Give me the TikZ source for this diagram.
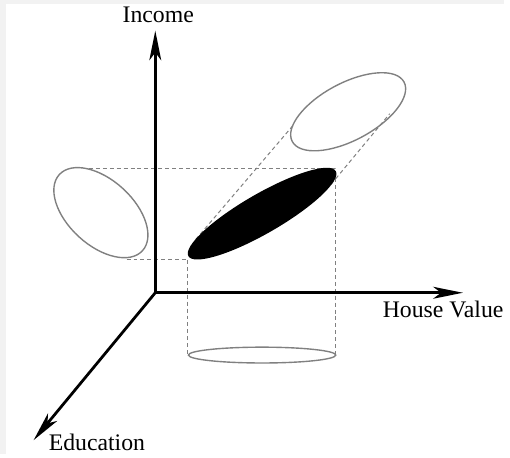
\documentclass[tikz,border=0pt]{standalone}
\usepackage{fontspec}
\setmainfont{Liberation Serif}
\usetikzlibrary{arrows.meta}

\begin{document}
\begin{tikzpicture}[x=0.5pt, y=-0.5pt, font=\fontsize{12}{14}\selectfont,
    axis/.style={line width=1.4pt, -{Stealth[length=15pt, width=6pt, inset=4pt]}},
    proj/.style={black!50, line width=0.7pt},
    guide/.style={black!50, line width=0.5pt, dash pattern=on 2pt off 1.5pt}]
  % frame
  \fill[black!5] (0,0) rectangle (510,459);
  \fill[white] (6,4) rectangle (510,459);
  % axes
  \coordinate (O) at (157,296);
  \coordinate (inctip) at (157,31);
  \coordinate (hvtip) at (468,296);
  \coordinate (edtip) at (34,445);
  \node (inc) at (160,15) {Income};
  \node (hv) at (448,313) {House Value};
  \node (edu) at (98,447) {Education};
  % guide lines
  \draw[guide] (90,170) -- (339,170) -- (339,359);
  \draw[guide] (128,262) -- (190,262) -- (190,359);
  \draw[guide] (198,242) -- (297,126);
  \draw[guide] (335,186) -- (394,115);
  % projections
  \draw[proj, shift={(102,215)}, rotate=-42.5] (0,0) ellipse [x radius=57, y radius=33];
  \draw[proj, shift={(352,113)}, rotate=28] (0,0) ellipse [x radius=64, y radius=29];
  \draw[proj] (265,359) ellipse [x radius=74.5, y radius=8];
  % the data
  \fill[shift={(265,216)}, rotate=30] (0,0) ellipse [x radius=86, y radius=20];
  \draw[axis] (O) -- (inctip);
  \draw[axis] (O) -- (hvtip);
  \draw[axis] (O) -- (edtip);
\end{tikzpicture}
\end{document}
